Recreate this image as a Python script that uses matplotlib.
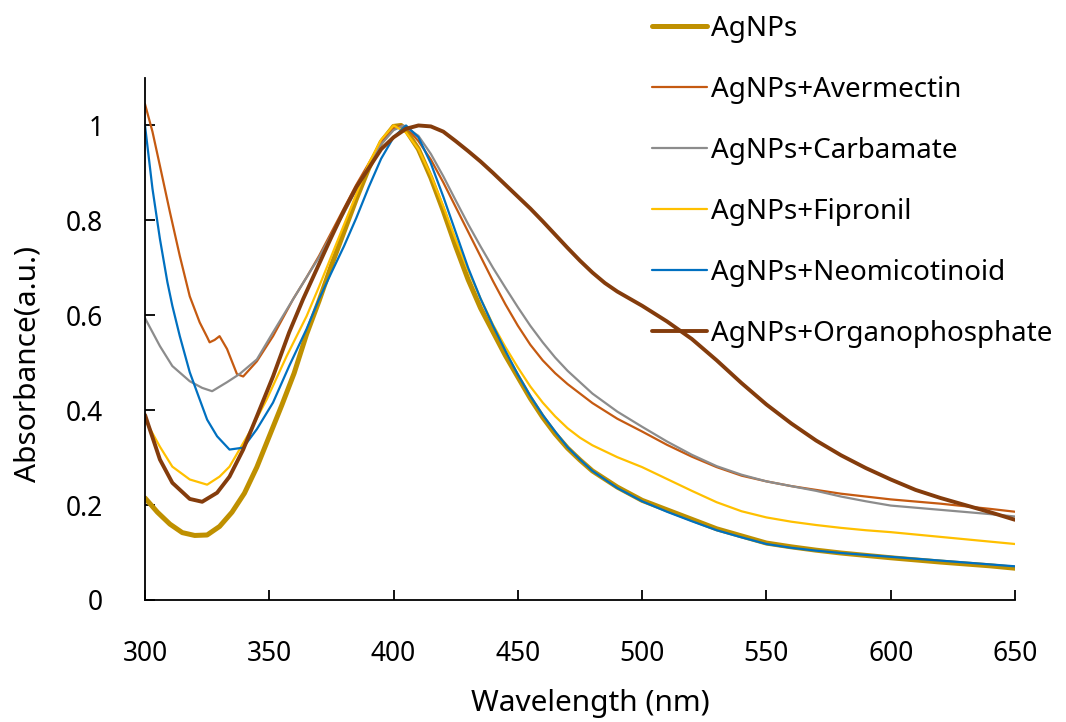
import matplotlib
matplotlib.use("Agg")
import matplotlib.pyplot as plt
import numpy as np

plt.rcParams['font.family'] = ['Noto Sans', 'DejaVu Sans']

# ---------------- data ----------------
wl_agnps = [300, 305, 310, 315, 320, 325, 330, 335, 340, 345, 350, 355, 360, 365, 370, 375, 380, 385, 390, 395,
            400, 403, 405, 410, 415, 420, 425, 430, 435, 440, 445, 450, 455, 460, 465, 470, 475, 480, 490,
            500, 510, 520, 530, 540, 550, 560, 570, 580, 590, 600, 620, 640, 650]
abs_agnps = [0.215, 0.185, 0.160, 0.142, 0.136, 0.137, 0.155, 0.185, 0.225, 0.280, 0.345, 0.410, 0.478, 0.560,
             0.630, 0.705, 0.775, 0.845, 0.910, 0.965, 0.998, 1.000, 0.990, 0.950, 0.890, 0.820, 0.745, 0.675,
             0.615, 0.565, 0.515, 0.470, 0.425, 0.385, 0.350, 0.320, 0.295, 0.272, 0.238, 0.210, 0.190, 0.170,
             0.150, 0.135, 0.120, 0.112, 0.105, 0.099, 0.094, 0.089, 0.080, 0.072, 0.067]

wl_aver = [300, 303, 306, 310, 314, 318, 322, 325, 326, 328, 330, 333, 337, 339.5, 345, 351.5, 359.6, 365, 370,
           375, 380, 385, 390, 395, 400, 403, 405, 410, 415, 420, 425, 430, 435, 440, 445, 450, 455, 460, 465,
           470, 480, 490, 500, 510, 520, 530, 540, 550, 560, 570, 580, 590, 600, 620, 640, 650]
abs_aver = [1.045, 0.987, 0.915, 0.818, 0.725, 0.640, 0.585, 0.554, 0.543, 0.548, 0.556, 0.529, 0.476, 0.471,
            0.503, 0.556, 0.634, 0.680, 0.725, 0.775, 0.825, 0.875, 0.920, 0.965, 0.993, 1.000, 0.997, 0.967,
            0.928, 0.880, 0.828, 0.776, 0.724, 0.672, 0.623, 0.578, 0.538, 0.505, 0.478, 0.455, 0.415, 0.382,
            0.355, 0.327, 0.302, 0.280, 0.262, 0.250, 0.240, 0.232, 0.224, 0.218, 0.212, 0.203, 0.192, 0.186]

wl_carb = [300, 306, 311, 318, 323, 327, 333, 338, 345, 351.5, 359.6, 365, 370, 375, 380, 385, 390, 395, 400,
           404, 410, 415, 420, 425, 430, 435, 440, 445, 450, 455, 460, 465, 470, 480, 490, 500, 510, 520, 530,
           540, 550, 560, 570, 580, 590, 600, 620, 640, 650]
abs_carb = [0.594, 0.535, 0.493, 0.461, 0.447, 0.440, 0.459, 0.476, 0.507, 0.564, 0.634, 0.680, 0.722, 0.770,
            0.815, 0.865, 0.915, 0.960, 0.990, 1.000, 0.978, 0.940, 0.893, 0.842, 0.792, 0.745, 0.700, 0.658,
            0.617, 0.578, 0.543, 0.511, 0.483, 0.435, 0.397, 0.365, 0.334, 0.306, 0.282, 0.264, 0.250, 0.240,
            0.230, 0.218, 0.208, 0.199, 0.190, 0.181, 0.176]

wl_fip = [300, 306, 311, 318, 325, 330, 334, 342, 349, 357, 365, 370, 375, 380, 385, 390, 395, 400, 405, 410,
          415, 420, 425, 430, 435, 440, 445, 450, 455, 460, 465, 470, 475, 480, 490, 500, 510, 520, 530, 540,
          550, 560, 570, 580, 590, 600, 620, 640, 650]
abs_fip = [0.380, 0.323, 0.281, 0.254, 0.243, 0.260, 0.281, 0.353, 0.423, 0.514, 0.598, 0.660, 0.725, 0.790,
           0.855, 0.920, 0.970, 1.000, 0.985, 0.950, 0.895, 0.830, 0.760, 0.695, 0.635, 0.580, 0.533, 0.490,
           0.450, 0.416, 0.387, 0.362, 0.342, 0.326, 0.301, 0.280, 0.255, 0.230, 0.206, 0.187, 0.174, 0.165,
           0.158, 0.152, 0.147, 0.143, 0.133, 0.123, 0.118]

wl_neo = [300, 303, 306, 309, 311, 314, 318, 321, 325, 329, 334, 339.5, 345, 351.5, 358, 365, 370, 375, 380, 385,
          390, 395, 400, 405, 410, 415, 420, 425, 430, 435, 440, 445, 450, 455, 460, 465, 470, 475, 480, 490,
          500, 510, 520, 530, 540, 550, 560, 570, 580, 590, 600, 620, 640, 650]
abs_neo = [1.000, 0.867, 0.761, 0.670, 0.620, 0.556, 0.480, 0.437, 0.380, 0.345, 0.317, 0.321, 0.360, 0.416,
           0.493, 0.571, 0.634, 0.690, 0.745, 0.805, 0.870, 0.930, 0.975, 1.000, 0.975, 0.920, 0.850, 0.775,
           0.700, 0.635, 0.578, 0.525, 0.475, 0.430, 0.390, 0.355, 0.322, 0.296, 0.272, 0.236, 0.208, 0.186,
           0.166, 0.147, 0.132, 0.118, 0.110, 0.104, 0.099, 0.095, 0.091, 0.083, 0.075, 0.071]

wl_org = [300, 306, 311, 318, 323, 329, 334, 339.5, 345, 351.5, 358, 363.6, 371.5, 375, 380, 385, 390, 395, 400,
          405, 410, 415, 420, 425, 430, 435, 440, 445, 450, 455, 460, 465, 470, 475, 480, 485, 490, 495, 500,
          510, 520, 530, 540, 550, 560, 570, 580, 590, 600, 610, 620, 630, 640, 650]
abs_org = [0.390, 0.296, 0.247, 0.213, 0.207, 0.226, 0.260, 0.317, 0.387, 0.471, 0.564, 0.634, 0.725, 0.765,
           0.820, 0.870, 0.910, 0.950, 0.975, 0.993, 1.000, 0.998, 0.987, 0.967, 0.946, 0.924, 0.900, 0.875,
           0.850, 0.825, 0.798, 0.770, 0.742, 0.715, 0.690, 0.668, 0.650, 0.635, 0.620, 0.587, 0.550, 0.505,
           0.457, 0.412, 0.372, 0.336, 0.305, 0.278, 0.254, 0.232, 0.215, 0.200, 0.185, 0.169]

labels = ['AgNPs', 'AgNPs+Avermectin', 'AgNPs+Carbamate', 'AgNPs+Fipronil',
          'AgNPs+Neomicotinoid', 'AgNPs+Organophosphate']
x_ticks = [300, 350, 400, 450, 500, 550, 600, 650]
y_ticks = [0, 0.2, 0.4, 0.6, 0.8, 1.0]
y_tick_labels = ['0', '0.2', '0.4', '0.6', '0.8', '1']

# ---------------- styling ----------------
colors = ['#BF9000', '#C55A11', '#8C8C8C', '#FFC000', '#0070C0', '#843C0C']
widths = [3.6, 1.6, 1.6, 1.6, 1.6, 2.8]

series = [(wl_agnps, abs_agnps), (wl_aver, abs_aver), (wl_carb, abs_carb),
          (wl_fip, abs_fip), (wl_neo, abs_neo), (wl_org, abs_org)]

fig = plt.figure(figsize=(10.66, 7.22), dpi=100)
ax = fig.add_axes([145/1066, 1 - 600/722, 870/1066, 522/722])

handles = []
for (x, y), c, w, lab in zip(series, colors, widths, labels):
    h, = ax.plot(x, y, color=c, lw=w, label=lab, solid_capstyle='round', solid_joinstyle='round')
    handles.append(h)

ax.set_xlim(300, 650)
ax.set_ylim(0, 1.1)
ax.set_xticks(x_ticks)
ax.set_yticks(y_ticks)
ax.set_yticklabels(y_tick_labels)
for s in ['top', 'right']:
    ax.spines[s].set_visible(False)
for s in ['left', 'bottom']:
    ax.spines[s].set_linewidth(1.3)
    ax.spines[s].set_color('black')
ax.tick_params(axis='x', direction='in', length=7, width=1.3, pad=29, labelsize=19)
ax.tick_params(axis='y', direction='in', length=7, width=1.3, pad=30, labelsize=19)

fig.text(590/1066, 1 - 704/722, 'Wavelength (nm)', ha='center', va='center', fontsize=21.5)
fig.text(28/1066, 1 - 364/722, 'Absorbance(a.u.)', ha='center', va='center', rotation=90, fontsize=21.5)

leg = fig.legend(handles=handles, labels=labels, loc='upper left',
                 bbox_to_anchor=(646/1066, 1 - 9/722), frameon=False, fontsize=20,
                 handlelength=2.0, handletextpad=0.15, labelspacing=1.19, borderaxespad=0,
                 borderpad=0.2)

fig.savefig('out.png', dpi=100)
